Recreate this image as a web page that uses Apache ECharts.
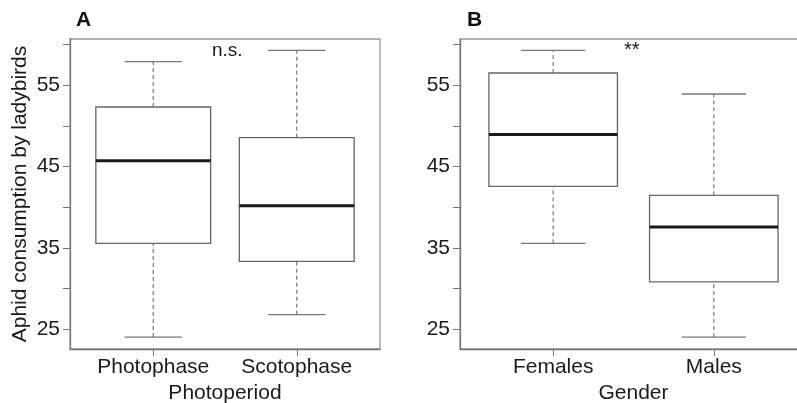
<!DOCTYPE html>
<html>
<head>
<meta charset="utf-8">
<script src="https://cdn.jsdelivr.net/npm/echarts@6/dist/echarts.min.js"></script>
<style>
  html, body { margin: 0; padding: 0; background: #fff; }
  #main { width: 797px; height: 403px; }
</style>
</head>
<body>
<div id="main"></div>
<script>
// box stats: [min, q1, median, q3, max]
var photoCats = ['Photophase', 'Scotophase'];
var photoStats = [
  [24.05, 35.57, 45.73, 52.33, 57.9],
  [26.8, 33.35, 40.19, 48.56, 59.3]
];
var genderCats = ['Females', 'Males'];
var genderStats = [
  [35.57, 42.58, 48.94, 56.51, 59.3],
  [24.05, 30.82, 37.57, 41.47, 53.93]
];
var yMajor = [25, 35, 45, 55];
var yMinor = [25, 30, 35, 40, 45, 50, 55, 60];

var font = "'Liberation Sans', Arial, sans-serif";
var myChart = echarts.init(document.getElementById('main'));

function toData(stats) {
  return stats.map(function (s, i) {
    return [i + 1].concat(s);
  });
}

function renderBox(params, api) {
  var x = api.value(0);
  var pMin = api.coord([x, api.value(1)]);
  var pQ1 = api.coord([x, api.value(2)]);
  var pMed = api.coord([x, api.value(3)]);
  var pQ3 = api.coord([x, api.value(4)]);
  var pMax = api.coord([x, api.value(5)]);
  var half = api.size([0.8, 0])[0] / 2;
  var cap = api.size([0.4, 0])[0] / 2;
  var cx = pMed[0];
  var dash = { stroke: '#777', lineWidth: 1.2, lineDash: [4, 3] };
  var solid = { stroke: '#777', lineWidth: 1.3 };
  return {
    type: 'group',
    children: [
      { type: 'line', shape: { x1: cx, y1: pQ3[1], x2: cx, y2: pMax[1] }, style: dash },
      { type: 'line', shape: { x1: cx, y1: pMin[1], x2: cx, y2: pQ1[1] }, style: dash },
      { type: 'line', shape: { x1: cx - cap, y1: pMax[1], x2: cx + cap, y2: pMax[1] }, style: solid },
      { type: 'line', shape: { x1: cx - cap, y1: pMin[1], x2: cx + cap, y2: pMin[1] }, style: solid },
      { type: 'rect', shape: { x: cx - half, y: pQ3[1], width: half * 2, height: pQ1[1] - pQ3[1] },
        style: { fill: '#fff', stroke: '#666', lineWidth: 1.3 } },
      { type: 'line', shape: { x1: cx - half, y1: pMed[1], x2: cx + half, y2: pMed[1] },
        style: { stroke: '#1a1a1a', lineWidth: 3 } }
    ]
  };
}

function xAxisFor(idx, cats, name) {
  return {
    type: 'value',
    gridIndex: idx,
    min: 0.42,
    max: 2.58,
    name: name,
    nameLocation: 'middle',
    nameGap: 30,
    nameTextStyle: { fontFamily: font, fontSize: 21, color: '#1a1a1a' },
    splitLine: { show: false },
    axisLine: { show: true, lineStyle: { color: '#777', width: 1.3 } },
    axisTick: { show: true, customValues: [1, 2], length: 7, lineStyle: { color: '#777' } },
    axisLabel: {
      customValues: [1, 2],
      margin: 8,
      fontFamily: font,
      fontSize: 21,
      color: '#1a1a1a',
      formatter: function (v) { return cats[Math.round(v) - 1]; }
    }
  };
}

function yAxisFor(idx, name) {
  return {
    type: 'value',
    gridIndex: idx,
    min: 22.58,
    max: 60.69,
    name: name,
    nameLocation: 'middle',
    nameGap: 39,
    nameTextStyle: { fontFamily: font, fontSize: 21, color: '#1a1a1a' },
    splitLine: { show: false },
    axisLine: { show: true, lineStyle: { color: '#777', width: 1.3 } },
    axisTick: { show: true, customValues: yMinor, length: 7, lineStyle: { color: '#777' } },
    axisLabel: {
      customValues: yMajor,
      margin: 10,
      fontFamily: font,
      fontSize: 21,
      color: '#1a1a1a'
    }
  };
}

var option = {
  animation: false,
  grid: [
    { left: 70, top: 39, width: 310, height: 310, outerBoundsMode: 'none',
      show: true, borderColor: '#999', borderWidth: 1.3 },
    { left: 460, top: 39, width: 347, height: 310, outerBoundsMode: 'none',
      show: true, borderColor: '#999', borderWidth: 1.3 }
  ],
  xAxis: [
    xAxisFor(0, photoCats, 'Photoperiod'),
    xAxisFor(1, genderCats, 'Gender')
  ],
  yAxis: [
    yAxisFor(0, 'Aphid consumption by ladybirds'),
    yAxisFor(1, '')
  ],
  graphic: [
    { type: 'text', left: 76, top: 10, style: { text: 'A', font: 'bold 21px ' + font, fill: '#111' } },
    { type: 'text', left: 467, top: 10, style: { text: 'B', font: 'bold 21px ' + font, fill: '#111' } },
    { type: 'text', left: 212, top: 41, style: { text: 'n.s.', font: '19px ' + font, fill: '#1a1a1a' } },
    { type: 'text', left: 624, top: 40, style: { text: '**', font: '20px ' + font, fill: '#1a1a1a' } }
  ],
  series: [
    {
      type: 'custom',
      xAxisIndex: 0,
      yAxisIndex: 0,
      renderItem: renderBox,
      encode: { x: 0, y: [1, 2, 3, 4, 5] },
      data: toData(photoStats)
    },
    {
      type: 'custom',
      xAxisIndex: 1,
      yAxisIndex: 1,
      renderItem: renderBox,
      encode: { x: 0, y: [1, 2, 3, 4, 5] },
      data: toData(genderStats)
    }
  ]
};
myChart.setOption(option);
</script>
</body>
</html>
